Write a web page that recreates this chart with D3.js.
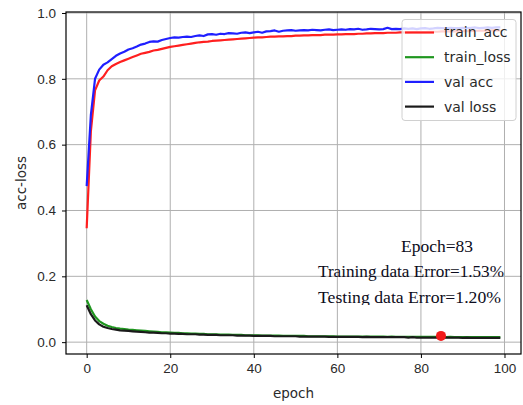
<!DOCTYPE html>
<html>
<head>
<meta charset="utf-8">
<script src="https://cdn.jsdelivr.net/npm/d3@7"></script>
<style>
  body { margin: 0; background: #fff; }
  svg { display: block; font-family: "DejaVu Sans", sans-serif; }
  .grid line { stroke: #b0b0b0; stroke-width: 1; }
  .axis path, .axis line { stroke: #000; }
  .axis text { fill: #2a2a2a; }
</style>
</head>
<body>
<svg id="chart" width="523" height="405"></svg>
<script>
// per-epoch history
var epochs = d3.range(100);

var trainAcc = [0.346, 0.640, 0.765, 0.795, 0.807, 0.826, 0.838, 0.845, 0.851, 0.856,
  0.861, 0.866, 0.871, 0.876, 0.879, 0.882, 0.886, 0.888, 0.891, 0.894,
  0.897, 0.899, 0.901, 0.903, 0.905, 0.907, 0.909, 0.911, 0.912, 0.913,
  0.915, 0.916, 0.917, 0.918, 0.919, 0.920, 0.921, 0.922, 0.923, 0.924,
  0.925, 0.926, 0.926, 0.927, 0.928, 0.928, 0.929, 0.929, 0.930, 0.930,
  0.931, 0.931, 0.932, 0.932, 0.933, 0.933, 0.933, 0.934, 0.934, 0.934,
  0.935, 0.935, 0.936, 0.936, 0.936, 0.937, 0.937, 0.938, 0.938, 0.939,
  0.939, 0.939, 0.940, 0.940, 0.940, 0.941, 0.941, 0.941, 0.942, 0.942,
  0.942, 0.942, 0.943, 0.943, 0.943, 0.944, 0.944, 0.944, 0.944, 0.945,
  0.945, 0.945, 0.945, 0.946, 0.946, 0.946, 0.946, 0.947, 0.947, 0.947];

var trainLoss = [0.128, 0.100, 0.078, 0.064, 0.056, 0.050, 0.046, 0.043, 0.041, 0.040,
  0.038, 0.037, 0.036, 0.035, 0.034, 0.033, 0.032, 0.031, 0.030, 0.030,
  0.029, 0.028, 0.028, 0.027, 0.027, 0.026, 0.026, 0.025, 0.025, 0.024,
  0.024, 0.024, 0.023, 0.023, 0.023, 0.022, 0.022, 0.022, 0.021, 0.021,
  0.021, 0.021, 0.020, 0.020, 0.020, 0.020, 0.020, 0.019, 0.019, 0.019,
  0.019, 0.019, 0.019, 0.018, 0.018, 0.018, 0.018, 0.018, 0.018, 0.018,
  0.017, 0.017, 0.017, 0.017, 0.017, 0.017, 0.017, 0.017, 0.017, 0.017,
  0.017, 0.017, 0.016, 0.017, 0.016, 0.016, 0.016, 0.016, 0.016, 0.016,
  0.016, 0.016, 0.016, 0.016, 0.016, 0.016, 0.015, 0.016, 0.015, 0.015,
  0.015, 0.015, 0.015, 0.015, 0.015, 0.015, 0.015, 0.015, 0.015, 0.015];

var valAcc = [0.474, 0.690, 0.800, 0.828, 0.843, 0.850, 0.860, 0.870, 0.877, 0.882,
  0.889, 0.893, 0.898, 0.904, 0.907, 0.912, 0.914, 0.913, 0.918, 0.921,
  0.924, 0.926, 0.925, 0.927, 0.928, 0.927, 0.930, 0.932, 0.930, 0.935,
  0.936, 0.934, 0.937, 0.936, 0.939, 0.938, 0.937, 0.940, 0.941, 0.939,
  0.941, 0.943, 0.940, 0.944, 0.945, 0.947, 0.943, 0.946, 0.947, 0.948,
  0.946, 0.947, 0.948, 0.947, 0.949, 0.948, 0.947, 0.949, 0.950, 0.948,
  0.949, 0.950, 0.949, 0.951, 0.950, 0.952, 0.949, 0.950, 0.952, 0.951,
  0.950, 0.951, 0.955, 0.951, 0.952, 0.951, 0.953, 0.952, 0.953, 0.951,
  0.953, 0.954, 0.952, 0.953, 0.955, 0.954, 0.953, 0.955, 0.954, 0.954,
  0.955, 0.954, 0.955, 0.956, 0.954, 0.955, 0.956, 0.955, 0.956, 0.956];

var valLoss = [0.112, 0.085, 0.066, 0.054, 0.047, 0.043, 0.040, 0.038, 0.036, 0.035,
  0.034, 0.033, 0.032, 0.031, 0.030, 0.029, 0.029, 0.028, 0.027, 0.027,
  0.026, 0.026, 0.025, 0.025, 0.024, 0.024, 0.024, 0.023, 0.023, 0.022,
  0.022, 0.022, 0.021, 0.021, 0.021, 0.021, 0.020, 0.020, 0.020, 0.020,
  0.019, 0.019, 0.019, 0.019, 0.019, 0.018, 0.018, 0.018, 0.018, 0.018,
  0.018, 0.017, 0.017, 0.017, 0.017, 0.017, 0.017, 0.017, 0.016, 0.016,
  0.016, 0.016, 0.016, 0.016, 0.016, 0.016, 0.015, 0.016, 0.015, 0.015,
  0.015, 0.015, 0.015, 0.015, 0.015, 0.015, 0.015, 0.014, 0.015, 0.014,
  0.014, 0.014, 0.014, 0.014, 0.014, 0.014, 0.014, 0.014, 0.014, 0.014,
  0.013, 0.014, 0.013, 0.013, 0.013, 0.013, 0.013, 0.013, 0.013, 0.013];

var seriesNames = ["train_acc", "train_loss", "val acc", "val loss"];
var seriesColors = ["#ff1f1f", "#1f961f", "#1f1fff", "#1a1a1a"];
var xTicks = [0, 20, 40, 60, 80, 100];
var yTicks = [0.0, 0.2, 0.4, 0.6, 0.8, 1.0];

var bestEpoch = [84.8];
var bestValue = [0.019];
var noteLines = ["Epoch=83", "Training data Error=1.53%", "Testing data Error=1.20%"];

(function() {
    var margin = {top: 12, right: 2, bottom: 51, left: 66},
        width = 523 - margin.left - margin.right,
        height = 405 - margin.top - margin.bottom;

    var x = d3.scaleLinear()
            .domain([-4.95, 103.95])
            .range([0, width]);

    var y = d3.scaleLinear()
            .domain([-0.036, 1.003])
            .range([height, 0]);

    var svg = d3.select("#chart");

    var focus = svg.append("g")
            .attr("transform", "translate(" + margin.left + "," + margin.top + ")");

    focus.append("clipPath")
            .attr("id", "clip")
        .append("rect")
            .attr("width", width)
            .attr("height", height);

    // grid
    focus.append("g")
            .attr("class", "grid")
        .selectAll("line.vx")
        .data(xTicks)
        .enter().append("line")
            .attr("x1", function(d) { return x(d); })
            .attr("x2", function(d) { return x(d); })
            .attr("y1", 0)
            .attr("y2", height);

    focus.select("g.grid")
        .selectAll("line.hy")
        .data(yTicks)
        .enter().append("line")
            .attr("x1", 0)
            .attr("x2", width)
            .attr("y1", function(d) { return y(d); })
            .attr("y2", function(d) { return y(d); });

    // curves
    var all = [trainAcc, trainLoss, valAcc, valLoss];
    var line = d3.line()
            .x(function(d, i) { return x(epochs[i]); })
            .y(function(d) { return y(d); });

    focus.append("g")
            .attr("clip-path", "url(#clip)")
        .selectAll("path")
        .data(all)
        .enter().append("path")
            .attr("d", line)
            .attr("fill", "none")
            .attr("stroke", function(d, i) { return seriesColors[i]; })
            .attr("stroke-width", 2.2)
            .attr("stroke-linejoin", "round");

    focus.selectAll("circle.best")
        .data(bestEpoch)
        .enter().append("circle")
            .attr("cx", function(d) { return x(d); })
            .attr("cy", function(d, i) { return y(bestValue[i]); })
            .attr("r", 5)
            .attr("fill", "#f21a1a");

    // axes
    var xAxis = d3.axisBottom(x).tickValues(xTicks).tickSize(4).tickPadding(5).tickFormat(d3.format("d"));
    var yAxis = d3.axisLeft(y).tickValues(yTicks).tickSize(4).tickPadding(6).tickFormat(d3.format(".1f"));

    focus.append("g")
            .attr("class", "x axis")
            .attr("transform", "translate(0," + height + ")")
            .call(xAxis);

    focus.append("g")
            .attr("class", "y axis")
            .call(yAxis);

    focus.selectAll(".axis path").remove();
    focus.selectAll(".axis text").style("font-size", "13.5px");

    // frame
    focus.append("rect")
            .attr("width", width)
            .attr("height", height)
            .attr("fill", "none")
            .attr("stroke", "#000")
            .attr("stroke-width", 1.2);

    svg.append("text")
            .attr("x", margin.left + width / 2)
            .attr("y", 398)
            .attr("text-anchor", "middle")
            .style("font-size", "13.5px")
            .attr("fill", "#2a2a2a")
            .text("epoch");

    svg.append("text")
            .attr("transform", "translate(26," + (margin.top + height / 2) + ") rotate(-90)")
            .attr("text-anchor", "middle")
            .style("font-size", "13.5px")
            .attr("fill", "#2a2a2a")
            .text("acc-loss");

    // legend
    var legend = svg.append("g")
            .attr("transform", "translate(402,19.5)");

    legend.append("rect")
            .attr("width", 114)
            .attr("height", 101)
            .attr("rx", 3)
            .attr("fill", "rgba(255,255,255,0.8)")
            .attr("stroke", "#d0d0d0");

    var item = legend.selectAll("g.item")
            .data(seriesNames)
        .enter().append("g")
            .attr("transform", function(d, i) { return "translate(0," + (13 + i * 24.7) + ")"; });

    item.append("line")
            .attr("x1", 3)
            .attr("x2", 32)
            .attr("stroke", function(d, i) { return seriesColors[i]; })
            .attr("stroke-width", 2.2);

    item.append("text")
            .attr("x", 42)
            .attr("dy", "0.35em")
            .style("font-size", "14px")
            .attr("fill", "#2a2a2a")
            .text(function(d) { return d; });

    // note block, bottom line is cut off in the source
    svg.append("clipPath")
            .attr("id", "noteclip")
        .append("rect")
            .attr("x", 300)
            .attr("y", 220)
            .attr("width", 223)
            .attr("height", 85);

    var noteX = [401, 318, 318],
        noteY = [251.5, 276.5, 303],
        noteW = [72, 186, 183];

    svg.append("g")
            .attr("clip-path", "url(#noteclip)")
        .selectAll("text")
        .data(noteLines)
        .enter().append("text")
            .attr("x", function(d, i) { return noteX[i]; })
            .attr("y", function(d, i) { return noteY[i]; })
            .attr("textLength", function(d, i) { return noteW[i]; })
            .attr("lengthAdjust", "spacingAndGlyphs")
            .style("font-family", "'Liberation Serif', 'Times New Roman', serif")
            .style("font-size", "16.5px")
            .attr("fill", "#0c0c20")
            .text(function(d) { return d; });
})();
</script>
</body>
</html>
